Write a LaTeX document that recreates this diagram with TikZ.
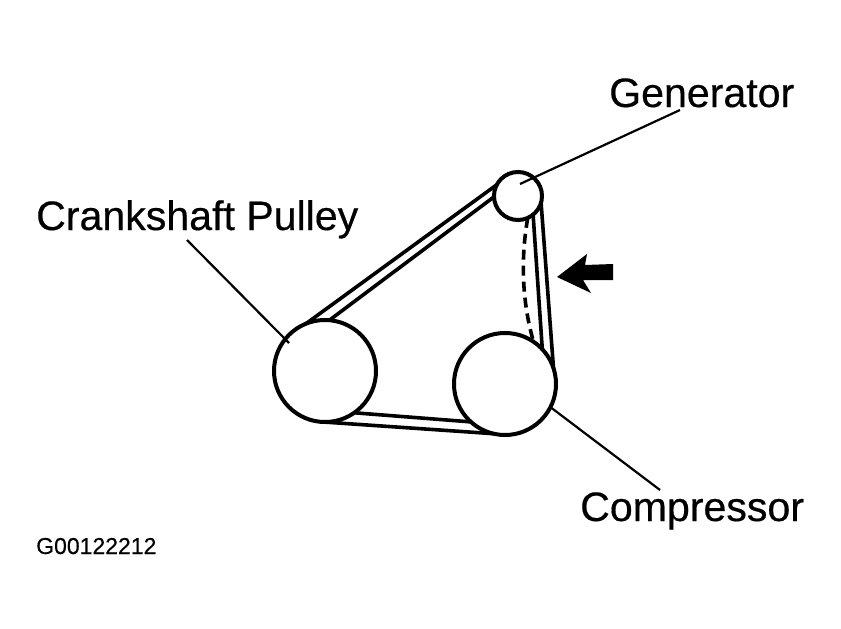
\documentclass[tikz,border=0pt]{standalone}
\usepackage{fontspec}
\setmainfont[FakeBold=0.4]{Liberation Sans}
\begin{document}
\begin{tikzpicture}[x=1pt,y=-1pt,
  pulley/.style={circle,draw=black,line width=4pt,fill=white,inner sep=0pt,outer sep=0pt},
  belt/.style={line width=3.6pt,line cap=round,black},
  leader/.style={line width=2.2pt,black},
  biglabel/.style={anchor=base west,inner sep=0pt,font=\fontsize{41.1}{41.1}\selectfont,text=black},
  smalllabel/.style={anchor=base west,inner sep=0pt,font=\fontsize{23}{23}\selectfont,text=black}]
\useasboundingbox (0,0) rectangle (841,629);
\node[pulley,minimum size=102pt] (crank) at (325,371) {};
\node[pulley,minimum size=102pt] (comp) at (505,384) {};
\node[pulley,minimum size=48pt] (gen) at (518,196) {};
\node[biglabel] (lgen) at (609,107) {Generator};
\node[biglabel] (lcrank) at (36,230) {Crankshaft Pulley};
\node[biglabel] (lcomp) at (580,521) {Compressor};
\node[smalllabel] (code) at (36,554) {G00122212};
\coordinate (lgenend) at (680,110);
\coordinate (lgenin) at (520,184);
\coordinate (lcrankend) at (187,240);
\coordinate (lcrankin) at (289,343);
\coordinate (lcompend) at (660,490);
% belts
\draw[belt] (gen.152) -- (crank.112);
\draw[belt] (gen.182) -- (crank.85);
\draw[belt] (gen.-16) -- (comp.18);
\draw[belt] (gen.-51) -- (comp.43);
\draw[belt] (crank.-55) -- (comp.-132);
\draw[belt] (crank.-95) -- (comp.-103);
\draw[line width=3.6pt,dash pattern=on 10pt off 6pt] (gen.-66) .. controls (522,250) and (520,295) .. (comp.56);
% arrow
\fill[black] (557,277) -- (587,254) -- (585,265) -- (613,264) -- (613,280) -- (583,280) -- (591,293) -- cycle;
% leaders
\draw[leader] (lgenend) -- (lgenin);
\draw[leader] (lcrankend) -- (lcrankin);
\draw[leader] (lcompend) -- (comp.-27);
\end{tikzpicture}
\end{document}
